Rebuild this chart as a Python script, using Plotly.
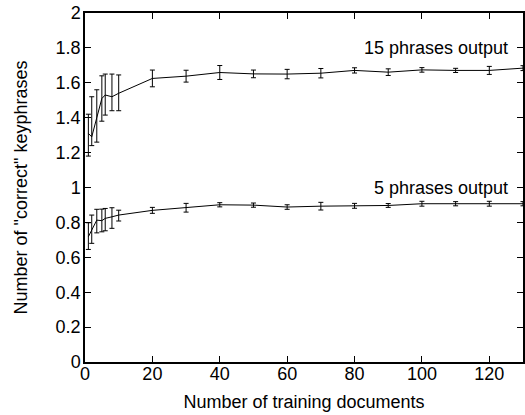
import plotly.graph_objects as go

# Training set sizes
x_docs = [1, 2, 3.5, 5, 6, 8, 10, 20, 30, 40, 50, 60, 70, 80, 90, 100, 110, 120, 130]

# 15 phrases output
y15 = [1.31, 1.29, 1.40, 1.51, 1.53, 1.52, 1.54,
       1.625, 1.638, 1.659, 1.651, 1.650, 1.655, 1.671, 1.661, 1.674, 1.671, 1.671, 1.684]
e15_up = [0.11, 0.23, 0.16, 0.13, 0.12, 0.13, 0.105,
          0.048, 0.034, 0.040, 0.022, 0.027, 0.027, 0.015, 0.019, 0.013, 0.012, 0.023, 0.014]
e15_dn = [0.13, 0.05, 0.14, 0.13, 0.115, 0.08, 0.10,
          0.048, 0.034, 0.040, 0.022, 0.027, 0.027, 0.015, 0.019, 0.013, 0.012, 0.023, 0.014]

# 5 phrases output
y5 = [0.718, 0.756, 0.813, 0.810, 0.823, 0.832, 0.842,
      0.869, 0.884, 0.901, 0.899, 0.888, 0.893, 0.895, 0.897, 0.907, 0.907, 0.907, 0.907]
e5_up = [0.08, 0.086, 0.062, 0.066, 0.057, 0.052, 0.028,
         0.017, 0.025, 0.012, 0.012, 0.013, 0.022, 0.014, 0.011, 0.014, 0.012, 0.014, 0.012]
e5_dn = [0.073, 0.076, 0.073, 0.064, 0.071, 0.066, 0.034,
         0.017, 0.025, 0.012, 0.012, 0.013, 0.022, 0.014, 0.011, 0.014, 0.012, 0.014, 0.012]

labels = ["15 phrases output", "5 phrases output"]
label_x = [126, 126]
label_y = [1.797, 0.995]

FONT = "Liberation Sans, Arial, sans-serif"

fig = go.Figure()
for y, eu, ed in [(y15, e15_up, e15_dn), (y5, e5_up, e5_dn)]:
    fig.add_trace(go.Scatter(
        x=x_docs, y=y, mode="lines",
        line=dict(color="black", width=1),
        error_y=dict(type="data", symmetric=False, array=eu, arrayminus=ed,
                     color="black", thickness=1, width=2.5),
        showlegend=False, cliponaxis=False,
    ))

for txt, lx, ly in zip(labels, label_x, label_y):
    fig.add_annotation(x=lx, y=ly, text=txt, showarrow=False,
                       xanchor="right", yanchor="middle",
                       font=dict(family=FONT, size=18, color="black"))

axis_common = dict(
    showline=True, linecolor="black", linewidth=1.5, mirror="ticks",
    ticks="inside", ticklen=6, tickwidth=1, tickcolor="black",
    showgrid=False, zeroline=False, automargin=False,
    tickfont=dict(family=FONT, size=18, color="black"),
)

fig.update_xaxes(range=[0, 130], tickvals=[0, 20, 40, 60, 80, 100, 120],
                 ticklabelstandoff=-5,
                 title=dict(text="Number of training documents",
                            font=dict(family=FONT, size=18, color="black"), standoff=12),
                 **axis_common)
fig.update_yaxes(range=[0, 2], dtick=0.2, tick0=0, ticklabelstandoff=-1,
                 title=dict(text='Number of "correct" keyphrases',
                            font=dict(family=FONT, size=18, color="black"), standoff=23),
                 **axis_common)

fig.update_layout(
    width=525, height=415,
    margin=dict(l=85, r=2, t=13, b=53),
    plot_bgcolor="white", paper_bgcolor="white",
    font=dict(family=FONT, color="black"),
)

fig.write_html("out.html",
               config={"displayModeBar": False},
               post_script="document.body.style.margin='0';document.body.style.overflow='hidden';")
